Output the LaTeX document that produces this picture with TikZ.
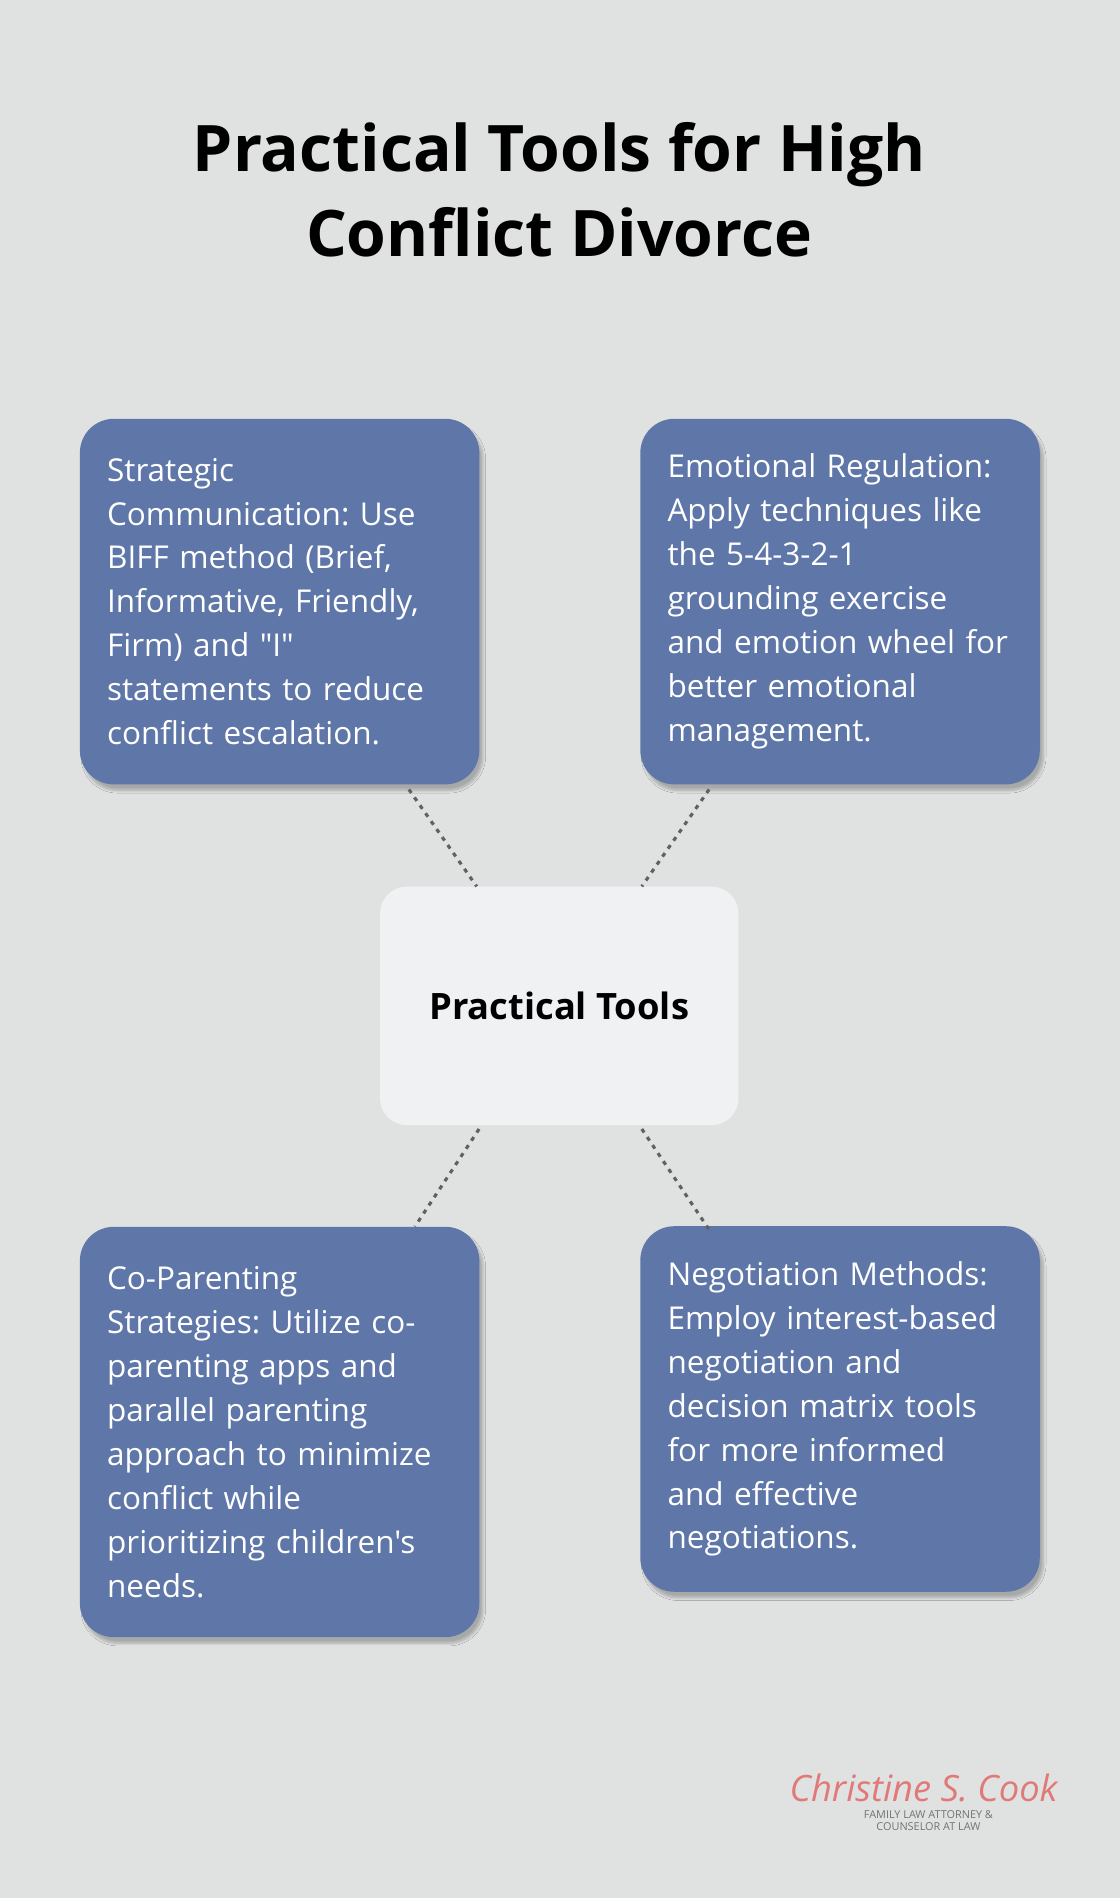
\documentclass[tikz,border=0pt]{standalone}
\usepackage{fontspec}
\setmainfont{Open Sans}[Ligatures=TeXOff]
\frenchspacing
\usetikzlibrary{positioning,shadows.blur}
\definecolor{bgcol}{HTML}{E0E2E2}
\definecolor{boxcol}{HTML}{5E76A8}
\definecolor{centcol}{HTML}{F0F1F3}
\definecolor{logocol}{HTML}{E07A78}
\tikzset{
  tool/.style={draw=none, fill=boxcol, rounded corners=28pt, text=white,
    minimum width=330pt, text width=285pt, align=left, inner xsep=22.5pt,
    font=\fontsize{26}{36.3}\selectfont, blur shadow={shadow blur steps=8,shadow xshift=3pt,shadow yshift=-5pt,shadow opacity=25}},
  hub/.style={draw=none, fill=centcol, rounded corners=22pt, minimum width=296pt,
    minimum height=197pt, font=\bfseries\fontsize{30}{34}\selectfont},
  link/.style={line width=2.6pt, dash pattern=on 3.5pt off 4.5pt, black!62}
}
\begin{document}
\begin{tikzpicture}[x=1pt,y=-1pt]
  \fill[bgcol] (0,0) rectangle (925,1568);
  \useasboundingbox (0,0) rectangle (925,1568);

  % Title
  \node[font=\bfseries\fontsize{53}{70}\selectfont, align=center] (title) at (462,157)
    {Practical Tools for High\\Conflict Divorce};

  % Boxes
  \node[tool, minimum height=302pt] (comm) at (231,497)
    {Strategic\\Communication: Use\\BIFF method (Brief,\\Informative, Friendly,\\Firm) and "I"\\statements to reduce\\conflict escalation.};
  \node[tool, minimum height=302pt] (emo) at (694,497)
    {Emotional Regulation:\\Apply techniques like\\the 5-4-3-2-1\\grounding exercise\\and emotion wheel for\\better emotional\\management.};
  \node[hub] (hub) at (462,831) {Practical Tools};
  \node[tool, minimum height=339pt] (copar) at (231,1183)
    {Co-Parenting\\Strategies: Utilize co-\\parenting apps and\\parallel parenting\\approach to minimize\\conflict while\\prioritizing children's\\needs.};
  \node[tool, minimum height=302pt] (nego) at (694,1164)
    {Negotiation Methods:\\Employ interest-based\\negotiation and\\decision matrix tools\\for more informed\\and effective\\negotiations.};

  % Connectors
  \draw[link] ([xshift=272pt,yshift=-4pt]comm.south west) -- ([xshift=80pt]hub.north west);
  \draw[link] ([xshift=57pt,yshift=-4pt]emo.south west) -- ([xshift=-80pt]hub.north east);
  \draw[link] ([xshift=82pt,yshift=-3pt]hub.south west) -- ([xshift=277pt]copar.north west);
  \draw[link] ([xshift=-80pt,yshift=-3pt]hub.south east) -- ([xshift=57pt,yshift=-3pt]nego.north west);

  % Logo
  \node[text=logocol, font=\itshape\fontsize{30}{30}\selectfont] (logo) at (763,1477) {Christine S. Cook};
  \node[text=black!55, font=\fontsize{9}{10}\selectfont, align=center, below=0pt of logo, xshift=4pt] (sub)
    {FAMILY LAW ATTORNEY \&\\COUNSELOR AT LAW};
\end{tikzpicture}
\end{document}
